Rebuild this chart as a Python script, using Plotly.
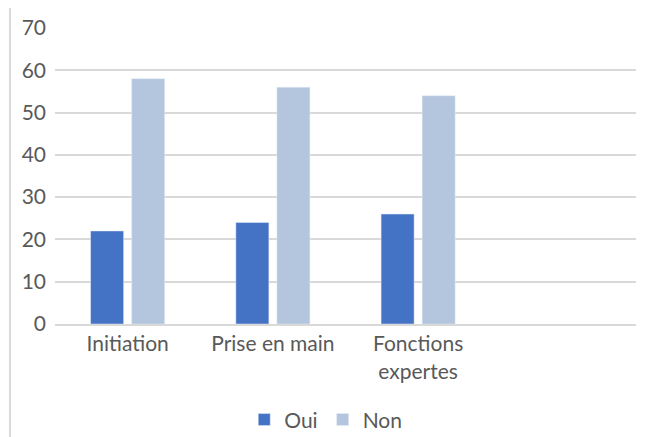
import plotly.graph_objects as go

categories = ["Initiation", "Prise en main", "Fonctions<br>expertes"]
oui = [22, 24, 26]
non = [58, 56, 54]
y_ticks = [0, 10, 20, 30, 40, 50, 60, 70]

FONT = "Lato"
TEXT = "#595959"
GRID = "#d9d9d9"

fig = go.Figure()
fig.add_trace(go.Bar(x=categories, y=oui, name="Oui", marker_color="#4472C4"))
fig.add_trace(go.Bar(x=categories, y=non, name="Non", marker_color="#B4C6DE"))

# the page body keeps its 8px margin, so the figure is 8px smaller than the window
fig.update_layout(
    width=638,
    height=429,
    margin=dict(l=47, r=10, t=20, b=113, autoexpand=False),
    paper_bgcolor="white",
    plot_bgcolor="white",
    barmode="group",
    bargap=0.435,
    bargroupgap=0.195,
    font=dict(family=FONT, size=21, color=TEXT),
    showlegend=True,
    legend=dict(orientation="h", x=0.466, xanchor="center", y=-0.324, yanchor="middle",
                font=dict(size=21, color=TEXT), itemwidth=30, traceorder="normal"),
    # light frame of the chart area, cropped on the right and bottom
    shapes=[dict(type="rect", xref="paper", yref="paper", x0=-0.0775, x1=1.2,
                 y0=-0.6, y1=1.071, line=dict(color=GRID, width=2), layer="below")],
)

fig.update_xaxes(
    range=[-0.5, 3.5],
    automargin=False,
    showgrid=False,
    showline=True,
    linecolor=GRID,
    linewidth=2,
    ticks="",
    tickfont=dict(size=21, color=TEXT),
)
fig.update_yaxes(
    range=[0, 70],
    tickvals=y_ticks,
    automargin=False,
    showgrid=True,
    gridcolor=GRID,
    gridwidth=2,
    zeroline=False,
    showline=False,
    ticks="",
    ticklabelstandoff=8,
    tickfont=dict(size=21, color=TEXT),
)

fig.write_html("out.html")
